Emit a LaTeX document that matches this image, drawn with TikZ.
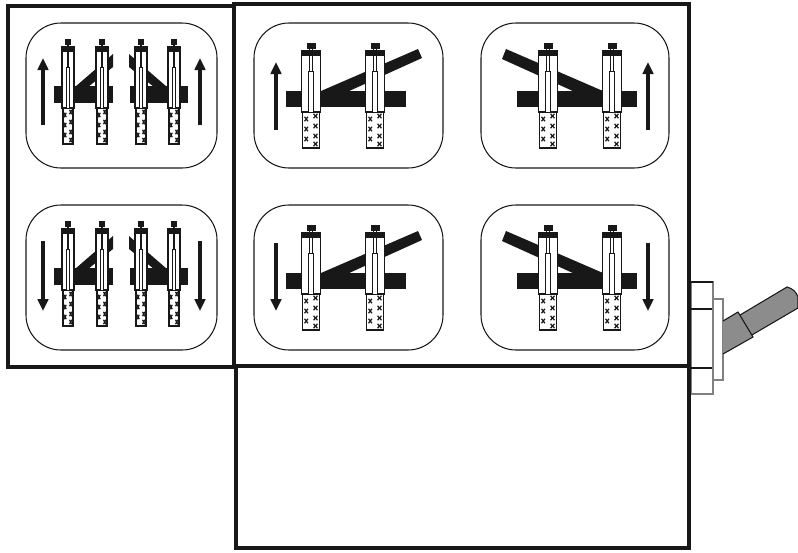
\documentclass[tikz,border=0pt]{standalone}
\usepackage{xcolor}
\usetikzlibrary{arrows.meta}
\definecolor{barblack}{RGB}{24,24,24}
\definecolor{handlegray}{RGB}{140,140,140}

\tikzset{
  frame/.style={draw=barblack, line width=2.4pt},
  panel/.style={draw=barblack, line width=0.6pt, rounded corners=0.7cm},
  bar/.style={fill=barblack},
  motion/.style={draw=barblack, line width=1.9pt, -{Triangle[length=0.24cm,width=0.21cm]}},
  part/.style={draw=barblack, line width=0.6pt},
  pics/jack/.style={code={
    % y runs from the knob (0) down to the rod end (105)
    \fill[barblack] (-4.5,0) rectangle (4.5,6);
    \draw[part, fill=white, line width=1.1pt] (-8.5,69) rectangle (8.5,105);
    \foreach \ym in {76,86,96} {
      \draw[barblack, line width=0.7pt]
        (-6.5,\ym-2.2) -- (-3,\ym+2.2) (-6.5,\ym+2.2) -- (-3,\ym-2.2);
    }
    \foreach \ym in {73,83,93,101} {
      \draw[barblack, line width=0.7pt]
        (2.5,\ym-2.2) -- (6.5,\ym+2.2) (2.5,\ym+2.2) -- (6.5,\ym-2.2);
    }
    \draw[barblack, line width=1.1pt, fill=white] (-9.5,8) rectangle (9.5,69);
    \fill[barblack] (-9.5,8) rectangle (9.5,13);
    \draw[barblack, line width=0.4pt] (-1.2,5) -- (-1.2,28) (1.2,5) -- (1.2,28);
    \draw[barblack, line width=0.5pt, fill=white] (-2.5,28) rectangle (2.5,69);
  }}
}

\begin{document}
\begin{tikzpicture}[x=0.02cm, y=-0.02cm]
  \useasboundingbox (0,0) rectangle (798,552);

  % Panels, upper row then lower row
  \foreach \ya in {0,182} {
    \draw[panel] (26,23+\ya) rectangle (217,168+\ya);
    \draw[panel] (254,23+\ya) rectangle (443,168+\ya);
    \draw[panel] (481,23+\ya) rectangle (669,168+\ya);

    % Narrow pairs
    \fill[bar] (54,86+\ya) rectangle (113,103+\ya);
    \fill[bar] (130,86+\ya) rectangle (188,103+\ya);
    \fill[bar] (75,87+\ya) -- (113,54+\ya) -- (113,67+\ya) -- (88,87+\ya) -- cycle;
    \fill[bar] (167,87+\ya) -- (129,54+\ya) -- (129,67+\ya) -- (154,87+\ya) -- cycle;
    \foreach \xj in {68,102,141,174} {
      \pic[xscale=0.6] at (\xj,39+\ya) {jack};
    }

    % Wide pair, lever to the right
    \fill[bar] (286,91+\ya) rectangle (406,107+\ya);
    \fill[bar] (321,91+\ya) -- (418,49+\ya) -- (422,58+\ya) -- (347,92+\ya) -- cycle;
    \foreach \xj in {311,375} {
      \pic at (\xj,43+\ya) {jack};
    }

    % Wide pair, lever to the left
    \fill[bar] (517,91+\ya) rectangle (637,107+\ya);
    \fill[bar] (603,91+\ya) -- (506,49+\ya) -- (502,59+\ya) -- (575,92+\ya) -- cycle;
    \foreach \xj in {548,612} {
      \pic at (\xj,43+\ya) {jack};
    }
  }

  % Arrows
  \foreach \xa in {43,200} {
    \coordinate (upend\xa) at (\xa,125);
    \coordinate (uptip\xa) at (\xa,58);
    \coordinate (downend\xa) at (\xa,241);
    \coordinate (downtip\xa) at (\xa,311);
    \draw[motion] (upend\xa) -- (uptip\xa);
    \draw[motion] (downend\xa) -- (downtip\xa);
  }
  \foreach \xa in {276,648} {
    \coordinate (upend\xa) at (\xa,130);
    \coordinate (uptip\xa) at (\xa,62);
    \coordinate (downend\xa) at (\xa,243);
    \coordinate (downtip\xa) at (\xa,311);
    \draw[motion] (upend\xa) -- (uptip\xa);
    \draw[motion] (downend\xa) -- (downtip\xa);
  }

  % Toggle switch
  \draw[draw=gray, line width=0.7pt] (691,282) rectangle (713,394);
  \draw[barblack, line width=0.6pt] (691,282) -- (713,282) (691,309) -- (713,309) (691,368) -- (713,368);
  \draw[draw=gray, fill=white, line width=0.7pt] (713,299) rectangle (723,380);
  \draw[part, fill=handlegray] (735,318) -- (787,287) to[out=-15, in=110] (798,297) -- (798,308) -- (745,339) -- cycle;
  \draw[part, fill=handlegray] (723,321) -- (738,312) -- (753,337) -- (723,354);

  % Frames
  \draw[frame] (8,6) rectangle (234,367);
  \draw[frame] (234,4) rectangle (689,366);
  \draw[frame] (236,366) rectangle (689,548);
\end{tikzpicture}
\end{document}
